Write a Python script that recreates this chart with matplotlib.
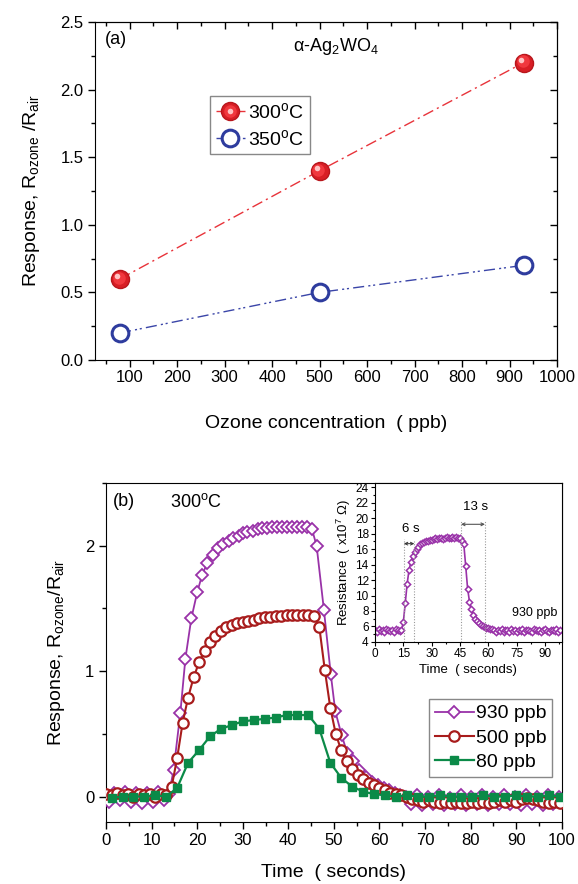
import matplotlib
matplotlib.use('Agg')
import matplotlib.pyplot as plt
from matplotlib.ticker import MultipleLocator, FormatStrFormatter
from matplotlib.legend_handler import HandlerTuple
from matplotlib.transforms import offset_copy

plt.rcParams['font.family'] = ['Liberation Sans', 'DejaVu Sans']
plt.rcParams['mathtext.fontset'] = 'custom'
plt.rcParams['mathtext.rm'] = 'Liberation Sans'
plt.rcParams['mathtext.it'] = 'Liberation Sans:italic'
plt.rcParams['mathtext.bf'] = 'Liberation Sans:bold'

# ---- (a) response vs ozone concentration ----
conc_ppb = [80, 500, 930]
resp_300C = [0.6, 1.4, 2.2]
resp_350C = [0.2, 0.5, 0.7]

# ---- (b) transient response at 300 C ----
t_930 = [0.6, 1.8, 3.0, 4.2, 5.4, 6.6, 7.8, 9.0, 10.2, 11.4, 12.6, 13.8,
         14.8, 16.3, 17.4, 18.7, 20.0, 21.1, 22.2, 23.5, 24.6, 25.7, 26.9, 27.9,
         29.2, 30.1, 31.0, 32.3, 33.3, 34.3, 35.4, 36.4, 37.4, 38.5, 39.6, 40.7,
         41.8, 42.9, 44.0, 45.2, 46.2, 47.8, 49.3, 50.3, 51.7, 52.9, 54.1, 55.5,
         57.0, 58.3, 59.6, 60.9, 62.1, 63.4, 64.6,
         65.8, 67.0, 68.2, 69.4, 70.6, 71.8, 73.0, 74.2, 75.4, 76.6, 77.8, 79.0,
         80.2, 81.4, 82.6, 83.8, 85.0, 86.2, 87.4, 88.6, 89.8, 91.0, 92.2, 93.4,
         94.6, 95.8, 97.0, 98.2, 99.4]
r_930 = [-0.04, 0.03, -0.03, 0.04, -0.04, 0.03, -0.05, 0.03, -0.04, 0.04, -0.03, 0.02,
         0.21, 0.67, 1.10, 1.42, 1.63, 1.77, 1.86, 1.93, 1.98, 2.01, 2.04, 2.06,
         2.08, 2.10, 2.11, 2.12, 2.13, 2.14, 2.14, 2.15, 2.15, 2.15, 2.15, 2.15,
         2.15, 2.15, 2.15, 2.13, 2.00, 1.49, 0.98, 0.68, 0.49, 0.35, 0.28, 0.21,
         0.16, 0.12, 0.09, 0.07, 0.05, 0.03, 0.01,
         0.0, -0.06, 0.01, -0.07, 0.0, -0.06, 0.01, -0.07, -0.01, -0.06, 0.01, -0.07,
         0.0, -0.06, 0.01, -0.07, 0.0, -0.06, 0.01, -0.06, 0.0, -0.07, 0.01, -0.06,
         0.0, -0.07, 0.01, -0.06, 0.0]

t_500 = [0.0, 1.2, 2.4, 3.6, 4.8, 6.0, 7.2, 8.4, 9.6, 10.8, 12.0, 13.2,
         14.4, 15.6, 16.8, 18.0, 19.2, 20.4, 21.6, 22.8, 24.0, 25.2, 26.4, 27.6,
         28.8, 30.0, 31.2, 32.4, 33.6, 34.8, 36.0, 37.2, 38.4, 39.6, 40.8, 42.0,
         43.2, 44.4, 45.6, 46.8, 48.0, 49.2, 50.4, 51.6, 52.8, 54.0, 55.2, 56.4,
         57.6, 58.8, 60.0, 61.2, 62.4, 63.6, 64.8, 66.0, 67.2, 68.4, 69.6, 70.8,
         72.0, 73.2, 74.4, 75.6, 76.8, 78.0, 79.2, 80.4, 81.6, 82.8, 84.0, 85.2,
         86.4, 87.6, 88.8, 90.0, 91.2, 92.4, 93.6, 94.8, 96.0, 97.2, 98.4, 99.6]
r_500 = [0.02, 0.01, 0.03, 0.01, 0.02, 0.0, 0.02, 0.01, 0.02, 0.0, 0.02, 0.01,
         0.08, 0.31, 0.59, 0.79, 0.95, 1.07, 1.16, 1.23, 1.28, 1.32, 1.35, 1.37,
         1.38, 1.39, 1.40, 1.41, 1.42, 1.43, 1.43, 1.44, 1.44, 1.45, 1.45, 1.45,
         1.45, 1.45, 1.44, 1.35, 1.01, 0.71, 0.50, 0.37, 0.28, 0.22, 0.17, 0.14,
         0.11, 0.09, 0.07, 0.05, 0.03, 0.02, 0.01, 0.0, -0.02, -0.03, -0.04, -0.03,
         -0.04, -0.05, -0.04, -0.05, -0.04, -0.05, -0.05, -0.04, -0.05, -0.04, -0.05, -0.04,
         -0.03, -0.04, -0.03, -0.04, -0.02, -0.01, -0.02, -0.03, -0.04, -0.05, -0.04, -0.05]

t_80 = [1.2, 3.6, 6.0, 8.4, 10.8, 13.2, 15.6, 18.0, 20.4, 22.8, 25.2, 27.6,
        30.0, 32.4, 34.8, 37.2, 39.6, 42.0, 44.4, 46.8, 49.2, 51.6, 54.0, 56.4,
        58.8, 61.2, 63.6, 66.0, 68.4, 70.8, 73.2, 75.6, 78.0, 80.4, 82.8, 85.2,
        87.6, 90.0, 92.4, 94.8, 97.2, 99.6]
r_80 = [-0.01, 0.0, 0.0, 0.0, 0.01, 0.0,
        0.07, 0.27, 0.37, 0.48, 0.54, 0.57, 0.60, 0.61, 0.62, 0.63, 0.65, 0.65, 0.65,
        0.54, 0.27, 0.15, 0.08, 0.04, 0.02, 0.01,
        0.0, 0.01, 0.0, 0.0, 0.01, 0.0, 0.0, 0.0, 0.01, 0.0, 0.0, 0.01, 0.0, 0.0, 0.01, 0.0]

# inset: resistance at 930 ppb (x10^7 ohm)
ins_t = [0, 1, 2, 3, 4, 5, 6, 7, 8, 9, 10, 11, 12, 13, 14, 15, 16, 17, 18, 19,
         20, 21, 22, 23, 24, 25, 26, 27, 28, 29, 30, 31, 32, 33, 34, 35, 36, 37, 38, 39,
         40, 41, 42, 43, 44, 45, 46, 47, 48, 49, 50, 51, 52, 53, 54, 55, 56, 57, 58, 59,
         60, 61, 62, 63, 64, 65, 66, 67, 68, 69, 70, 71, 72, 73, 74, 75, 76, 77, 78, 79,
         80, 81, 82, 83, 84, 85, 86, 87, 88, 89, 90, 91, 92, 93, 94, 95, 96, 97, 98]
ins_r = [5.6, 5.3, 5.7, 5.4, 5.6, 5.3, 5.7, 5.5, 5.4, 5.6, 5.3, 5.7, 5.5, 5.4,
         5.5, 6.6, 9.0, 11.5, 13.3, 14.3, 15.1, 15.6, 16.0, 16.3, 16.6, 16.8, 16.9, 17.0, 17.1, 17.2, 17.2,
         17.3, 17.4, 17.3, 17.4, 17.4, 17.3, 17.4, 17.5, 17.4, 17.4, 17.5, 17.4, 17.5, 17.4, 17.4,
         17.0, 16.6, 13.8, 10.9, 9.2, 8.2, 7.5, 7.0, 6.7, 6.4, 6.2, 6.0, 5.9, 5.8, 5.8, 5.7, 5.7,
         5.5, 5.3, 5.6, 5.4, 5.7, 5.3, 5.5, 5.6, 5.3, 5.7, 5.4, 5.5, 5.3, 5.6, 5.4, 5.7, 5.3, 5.5,
         5.6, 5.4, 5.3, 5.7, 5.5, 5.4, 5.6, 5.3, 5.5, 5.7, 5.4, 5.3, 5.6, 5.5, 5.4, 5.7, 5.3, 5.5]
mark_t = [15.3, 20.8, 45.5, 58.2]
mark_top = [17.3, 17.0, 19.7, 19.7]

RED = '#E3242B'
BLUE = '#2E3C9E'
PURPLE = '#9932A8'
DRED = '#A81C1C'
GREEN = '#0B8A48'

fig = plt.figure(figsize=(5.78, 8.84), dpi=100)

# ================= panel (a) =================
ax1 = fig.add_axes([0.1649, 0.5928, 0.7988, 0.3823])
l300, = ax1.plot(conc_ppb, resp_300C, color='#E8333A', lw=1, ls=(0, (8, 3, 1.5, 3)),
                 marker='o', ms=13, mfc='#D81E25', mec='#B8161C', mew=1, zorder=3)
# shaded "sphere" look: lighter layers towards the upper left
mid = offset_copy(ax1.transData, fig=fig, x=-0.8, y=0.8, units='points')
lmid, = ax1.plot(conc_ppb, resp_300C, ls='none', marker='o', ms=9, mfc='#F0383E',
                 mec='none', transform=mid, zorder=4)
hl = offset_copy(ax1.transData, fig=fig, x=-2.0, y=2.0, units='points')
lhl, = ax1.plot(conc_ppb, resp_300C, ls='none', marker='o', ms=4, mfc='#FFC4C4',
                mec='none', transform=hl, zorder=5)
l350, = ax1.plot(conc_ppb, resp_350C, color='#3A45A8', lw=1, ls=(0, (8, 3, 1.5, 2, 1.5, 3)),
                 marker='o', ms=12, mfc='white', mec=BLUE, mew=2.2, zorder=3)

ax1.set_xlim(28, 1000)
ax1.set_ylim(0, 2.5)
ax1.xaxis.set_major_locator(MultipleLocator(100))
ax1.xaxis.set_minor_locator(MultipleLocator(50))
ax1.yaxis.set_major_locator(MultipleLocator(0.5))
ax1.yaxis.set_minor_locator(MultipleLocator(0.25))
ax1.yaxis.set_major_formatter(FormatStrFormatter('%.1f'))
ax1.tick_params(which='both', direction='out', labelsize=12, width=1)
ax1.tick_params(axis='x', pad=2)
ax1.tick_params(which='major', length=5)
ax1.tick_params(which='minor', length=3)
for side in ['top', 'right']:
    if side == 'top':
        sec = ax1.secondary_xaxis('top')
        sec.xaxis.set_major_locator(MultipleLocator(100))
        sec.xaxis.set_minor_locator(MultipleLocator(50))
    else:
        sec = ax1.secondary_yaxis('right')
        sec.yaxis.set_major_locator(MultipleLocator(0.5))
        sec.yaxis.set_minor_locator(MultipleLocator(0.25))
    sec.tick_params(which='both', direction='in', labeltop=False, labelright=False,
                    labelbottom=False, labelleft=False, width=1)
    sec.tick_params(which='major', length=5)
    sec.tick_params(which='minor', length=3)

ax1.set_xlabel('Ozone concentration  ( ppb)', fontsize=14, labelpad=22)
ax1.set_ylabel(r'Response, R$_{\rm ozone}$ /R$_{\rm air}$', fontsize=14, labelpad=13)
ax1.text(0.021, 0.948, '(a)', transform=ax1.transAxes, fontsize=13, ha='left', va='center')
ax1.text(0.521, 0.929, r'α-Ag$_2$WO$_4$', transform=ax1.transAxes, fontsize=13,
         ha='center', va='center')
leg1 = ax1.legend([(l300, lmid, lhl), l350], [r'300$^{\rm o}$C', r'350$^{\rm o}$C'],
                  handler_map={tuple: HandlerTuple(ndivide=1)},
                  loc='upper left', bbox_to_anchor=(0.248, 0.781), borderaxespad=0,
                  fontsize=14, handlelength=1.5, handletextpad=0.15, labelspacing=0.35,
                  borderpad=0.3, fancybox=False, edgecolor='#888888', framealpha=1)
leg1.get_frame().set_linewidth(1)

# ================= panel (b) =================
ax2 = fig.add_axes([0.1836, 0.0705, 0.7882, 0.3831])
ax2.plot(t_930, r_930, color=PURPLE, lw=1.3, marker='D', ms=6, mfc='white',
         mec=PURPLE, mew=1.3, label='930 ppb', zorder=3)
ax2.plot(t_500, r_500, color=DRED, lw=1.5, marker='o', ms=7.5, mfc='white',
         mec=DRED, mew=1.6, label='500 ppb', zorder=4)
ax2.plot(t_80, r_80, color=GREEN, lw=1.6, marker='s', ms=6, mfc=GREEN,
         mec=GREEN, label='80 ppb', zorder=5)
ax2.set_xlim(0, 100)
ax2.set_ylim(-0.2, 2.5)
ax2.xaxis.set_major_locator(MultipleLocator(10))
ax2.xaxis.set_minor_locator(MultipleLocator(5))
ax2.yaxis.set_major_locator(MultipleLocator(1))
ax2.yaxis.set_minor_locator(MultipleLocator(0.5))
ax2.tick_params(which='both', direction='out', labelsize=12, width=1)
ax2.tick_params(which='major', length=5)
ax2.tick_params(which='minor', length=3)
ax2.set_xlabel('Time  ( seconds)', fontsize=14, labelpad=11)
ax2.set_ylabel(r'Response, R$_{\rm ozone}$/R$_{\rm air}$', fontsize=14, labelpad=13)
ax2.text(0.015, 0.944, '(b)', transform=ax2.transAxes, fontsize=13, ha='left', va='center')
ax2.text(0.140, 0.944, r'300$^{\rm o}$C', transform=ax2.transAxes, fontsize=13,
         ha='left', va='center')
leg2 = ax2.legend(loc='upper left', bbox_to_anchor=(0.7087, 0.3623), borderaxespad=0,
                  fontsize=14, handlelength=2.0, handletextpad=0.1, labelspacing=0.35,
                  borderpad=0.3, fancybox=False, edgecolor='#888888', framealpha=1)
leg2.get_frame().set_linewidth(1)

# inset
ax3 = fig.add_axes([0.6488, 0.2738, 0.3230, 0.1795])
ax3.plot(ins_t, ins_r, color=PURPLE, lw=1.2, marker='D', ms=3.2, mfc='white',
         mec=PURPLE, mew=1.1, clip_on=True)
ax3.vlines(mark_t, 4, mark_top, colors='#999999', linestyles=(0, (1, 1.5)), lw=0.8)
ax3.annotate('', xy=(mark_t[0], 16.7), xytext=(mark_t[1], 16.7),
             arrowprops=dict(arrowstyle='<->', lw=0.7, color='#333333', mutation_scale=5,
                             shrinkA=0, shrinkB=0))
ax3.annotate('', xy=(mark_t[2], 19.2), xytext=(mark_t[3], 19.2),
             arrowprops=dict(arrowstyle='<->', lw=0.8, color='#555555', mutation_scale=5,
                             shrinkA=0, shrinkB=0))
ax3.text(19.1, 18.6, '6 s', fontsize=9.5, ha='center', va='center')
ax3.text(53.2, 21.4, '13 s', fontsize=9.5, ha='center', va='center')
ax3.text(96.3, 7.7, '930 ppb', fontsize=9, ha='right', va='center')
ax3.set_xlim(0, 98.8)
ax3.set_ylim(4, 24.5)
ax3.xaxis.set_major_locator(MultipleLocator(15))
ax3.xaxis.set_minor_locator(MultipleLocator(7.5))
ax3.yaxis.set_major_locator(MultipleLocator(2))
ax3.yaxis.set_minor_locator(MultipleLocator(1))
ax3.tick_params(which='both', direction='out', labelsize=8.5, width=0.8, pad=1.5)
ax3.tick_params(which='major', length=3)
ax3.tick_params(which='minor', length=1.5)
ax3.set_xlabel('Time  ( seconds)', fontsize=9.5, labelpad=3)
ax3.set_ylabel('Resistance  ( x10$^7$ Ω)', fontsize=9.5, labelpad=2)

fig.savefig('out.png', dpi=100)
